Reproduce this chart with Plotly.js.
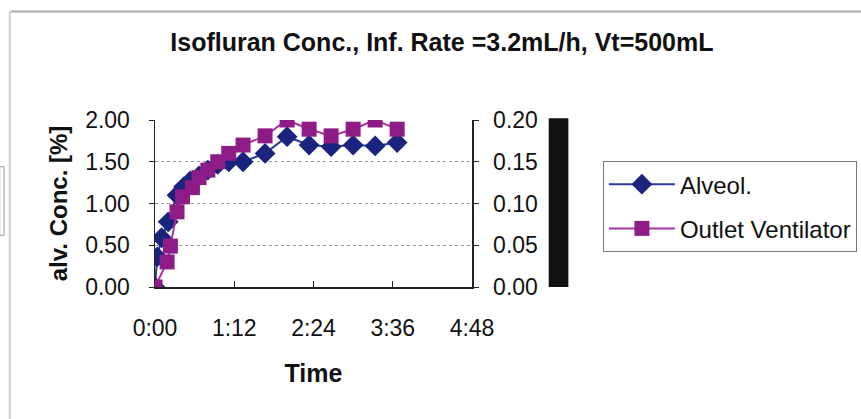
<!DOCTYPE html>
<html>
<head>
<meta charset="utf-8">
<script src="https://cdn.plot.ly/plotly-3.0.1.min.js"></script>
<style>
html,body{margin:0;padding:0;background:#fff;}
#chart{width:861px;height:419px;}
</style>
</head>
<body>
<div id="chart"></div>
<script>
// Time in minutes
var alveolTime = [0, 2, 6, 12, 20, 26, 32, 40, 48, 57, 67, 80, 100, 120, 140, 160, 180, 200, 220];
var alveolConc = [0, 0.36, 0.59, 0.78, 1.10, 1.20, 1.27, 1.33, 1.40, 1.47, 1.50, 1.50, 1.60, 1.80, 1.70, 1.68, 1.70, 1.69, 1.73];
var outletTime = [0, 11, 14, 20, 25, 34, 40, 48, 57, 67, 80, 100, 120, 140, 160, 180, 200, 220];
var outletConc = [0, 0.30, 0.49, 0.90, 1.08, 1.19, 1.31, 1.40, 1.50, 1.60, 1.70, 1.81, 2.00, 1.89, 1.81, 1.89, 2.00, 1.89];
var xTickVals = [0, 72, 144, 216, 288];
var xTickText = ["0:00", "1:12", "2:24", "3:36", "4:48"];
var yTickVals = [0, 0.5, 1.0, 1.5, 2.0];
var y2TickVals = [0, 0.05, 0.10, 0.15, 0.20];

var FONT = "Liberation Sans, Arial, sans-serif";

var traces = [
  {
    x: alveolTime, y: alveolConc, name: "Alveol.", type: "scatter", mode: "lines+markers",
    line: {color: "#2a3a9a", width: 2},
    marker: {symbol: "diamond", size: 16, color: "#1a237e"},
    legendgroup: "a"
  },
  {
    x: outletTime, y: outletConc, name: "Outlet Ventilator", type: "scatter", mode: "lines+markers",
    line: {color: "#a8329c", width: 2},
    marker: {symbol: "square", size: 15, color: "#8e1b86"},
    legendgroup: "b"
  },
  {
    x: [null], y: [null], yaxis: "y2", type: "scatter", mode: "lines",
    showlegend: false, hoverinfo: "skip"
  }
];

var layout = {
  width: 861, height: 419,
  margin: {l: 155, r: 389, t: 120, b: 132, autoexpand: false},
  paper_bgcolor: "#ffffff", plot_bgcolor: "#ffffff",
  font: {family: FONT, color: "#111", size: 23},
  showlegend: true,
  title: {
    text: "<b>Isofluran Conc., Inf. Rate =3.2mL/h, Vt=500mL</b>",
    font: {family: FONT, size: 25, color: "#111"},
    x: 0.905, xanchor: "center", y: 0.9, yanchor: "middle", xref: "paper", yref: "container"
  },
  xaxis: {
    range: [0, 288], tickvals: xTickVals, ticktext: xTickText,
    showgrid: false, zeroline: false,
    showline: true, linecolor: "#222", linewidth: 1.5,
    ticks: "inside", ticklen: 6, tickcolor: "#222",
    ticklabelstandoff: 20,
    tickfont: {family: FONT, size: 23, color: "#111"},
    title: {text: "<b>Time</b>", font: {family: FONT, size: 25, color: "#111"}, standoff: 24},
    fixedrange: true
  },
  yaxis: {
    range: [0, 2.0], tickvals: yTickVals, tickformat: ".2f",
    showgrid: true, gridcolor: "#9a9a9a", griddash: "dot", gridwidth: 1.2,
    zeroline: false,
    showline: true, linecolor: "#222", linewidth: 1.5,
    ticks: "outside", ticklen: 5, tickcolor: "#222",
    ticklabelstandoff: 14,
    tickfont: {family: FONT, size: 23, color: "#111"},
    title: {text: "<b>alv. Conc. [%]</b>", font: {family: FONT, size: 24, color: "#111"}, standoff: 10},
    fixedrange: true
  },
  yaxis2: {
    range: [0, 0.2], tickvals: y2TickVals, tickformat: ".2f",
    overlaying: "y", side: "right", anchor: "x",
    showgrid: false, zeroline: false,
    showline: true, linecolor: "#222", linewidth: 1.5,
    ticks: "outside", ticklen: 5, tickcolor: "#222",
    ticklabelstandoff: 10,
    tickfont: {family: FONT, size: 23, color: "#111"},
    fixedrange: true
  },
  legend: {
    x: 1.413, y: 0.754, xanchor: "left", yanchor: "top",
    bgcolor: "#ffffff", bordercolor: "#777", borderwidth: 1,
    font: {family: FONT, size: 24, color: "#111"},
    traceorder: "grouped", tracegroupgap: 10, itemwidth: 66
  },
  shapes: [
    {type: "rect", xref: "paper", yref: "paper", x0: 1.242, x1: 1.304, y0: 0, y1: 1.01, fillcolor: "#111", line: {width: 0}},
    {type: "line", xref: "paper", yref: "paper", x0: -0.455, x1: 2.24, y0: 1.65, y1: 1.65, line: {color: "#aaa", width: 2}},
    {type: "line", xref: "paper", yref: "paper", x0: -0.458, x1: -0.458, y0: 1.65, y1: -0.79, line: {color: "#ccc", width: 2}},
    {type: "rect", xref: "paper", yref: "paper", x0: -0.49, x1: -0.476, y0: 0.31, y1: 0.72, line: {color: "#999", width: 1}}
  ]
};

Plotly.newPlot("chart", traces, layout, {displayModeBar: false, staticPlot: true});
</script>
</body>
</html>
